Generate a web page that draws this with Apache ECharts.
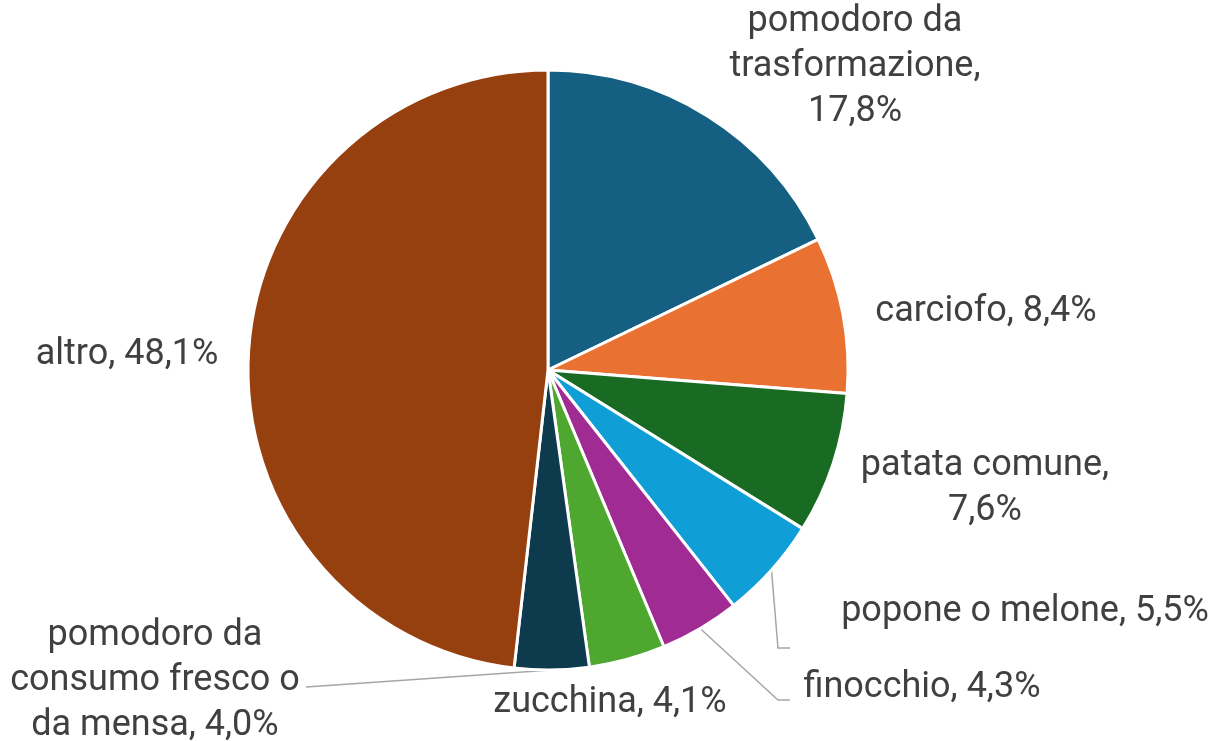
<!DOCTYPE html>
<html>
<head>
<meta charset="utf-8">
<script src="https://cdn.jsdelivr.net/npm/echarts@6/dist/echarts.min.js"></script>
<style>html,body{margin:0;padding:0;background:#fff}#c{width:1218px;height:741px}</style>
</head>
<body>
<div id="c"></div>
<script>
var categories = ['pomodoro da trasformazione', 'carciofo', 'patata comune', 'popone o melone', 'finocchio', 'zucchina', 'pomodoro da consumo fresco o da mensa', 'altro'];
var values = [17.8, 8.4, 7.6, 5.5, 4.3, 4.1, 4.0, 48.1];
var colors = ['#156082', '#E97132', '#196B24', '#0F9ED5', '#A02B93', '#4EA72E', '#0E3A4E', '#97400F'];
var labelWrap = ['pomodoro da\ntrasformazione,\n', 'carciofo, ', 'patata comune,\n', 'popone o melone, ', 'finocchio, ', 'zucchina, ', 'pomodoro da\nconsumo fresco o\nda mensa, ', 'altro, '];

var labelPos = [[855, 67], [986, 312], [985, 488], [1025, 612], [922, 688], [610, 703], [155, 681], [127, 355]];
var lineBends = {3: [[778, 648], [790, 648]], 4: [[778, 700], [790, 700]], 6: [[306, 687]]};

var chart = echarts.init(document.getElementById('c'), null, {renderer: 'canvas'});
var data = categories.map(function (c, i) {
  return {
    name: c, value: values[i],
    itemStyle: {color: colors[i]},
    labelLine: {show: !!lineBends[i]}
  };
});
chart.setOption({
  animation: false,
  series: [{
    type: 'pie',
    center: [548, 370],
    radius: [0, 300],
    startAngle: 90,
    clockwise: true,
    data: data,
    itemStyle: {borderColor: '#fff', borderWidth: 3},
    label: {
      show: true,
      position: 'outside',
      fontFamily: 'Roboto',
      fontSize: 36,
      lineHeight: 45,
      color: '#404040',
      align: 'center',
      overflow: 'none',
      formatter: function (p) {
        return labelWrap[p.dataIndex] + p.value.toFixed(1).replace('.', ',') + '%';
      }
    },
    labelLine: {show: true, length: 10, length2: 10, lineStyle: {color: '#A6A6A6', width: 1.5}},
    labelLayout: function (p) {
      var i = p.dataIndex;
      var res = {x: labelPos[i][0], y: labelPos[i][1], align: 'center', verticalAlign: 'middle'};
      if (lineBends[i] && p.labelLinePoints) {
        res.labelLinePoints = [p.labelLinePoints[0]].concat(lineBends[i]);
      }
      return res;
    }
  }]
});
</script>
</body>
</html>
